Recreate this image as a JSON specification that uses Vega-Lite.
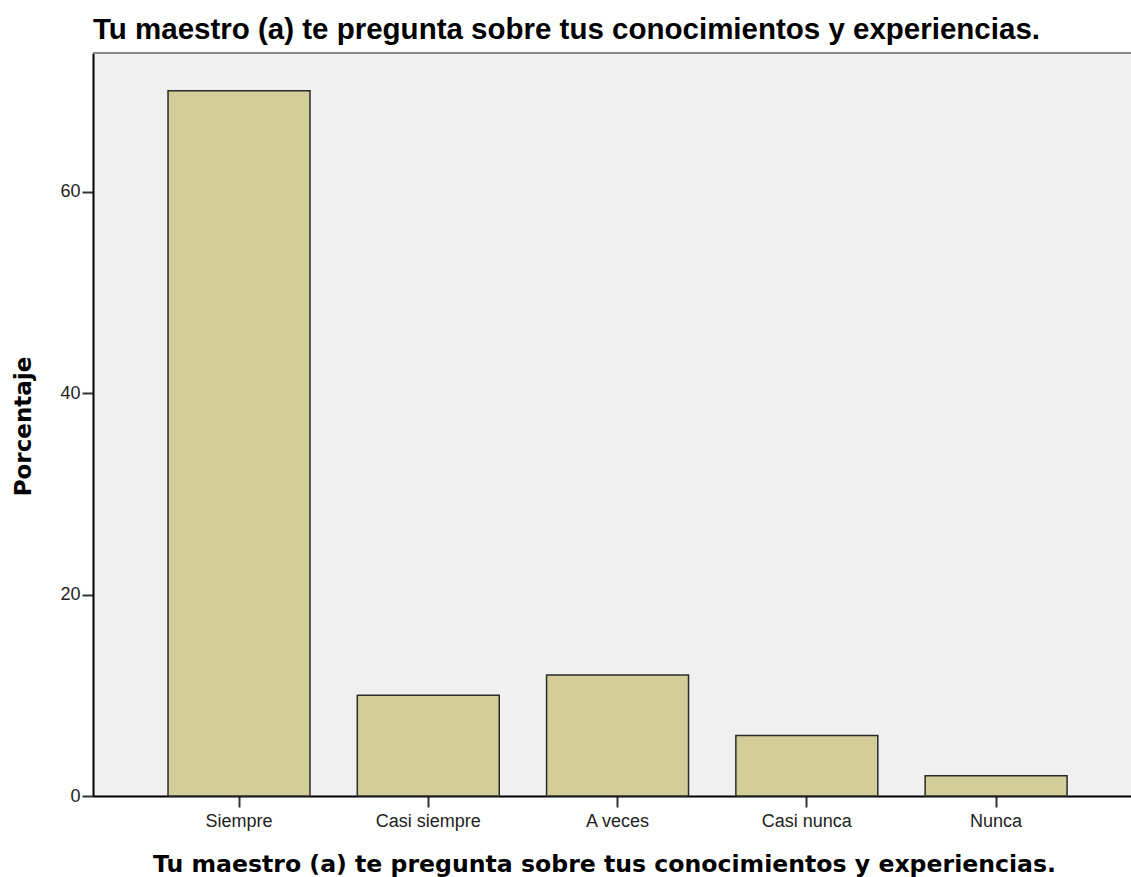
{
  "$schema": "https://vega.github.io/schema/vega-lite/v6.json",
  "autosize": "none",
  "padding": {"left": 93, "top": 53, "right": 0, "bottom": 81},
  "width": 1038,
  "height": 743,
  "background": "white",
  "title": {
    "text": "Tu maestro (a) te pregunta sobre tus conocimientos y experiencias.",
    "anchor": "start",
    "frame": "group",
    "offset": 7,
    "font": "Liberation Sans",
    "fontSize": 29.5,
    "fontWeight": "bold",
    "color": "black"
  },
  "config": {
    "view": {"fill": "#F0F0F0", "stroke": null},
    "axis": {"domainColor": "black", "tickColor": "#333333", "labelColor": "#222222", "grid": false}
  },
  "data": {
    "values": [
      {"respuesta": "Siempre", "porcentaje": 70},
      {"respuesta": "Casi siempre", "porcentaje": 10},
      {"respuesta": "A veces", "porcentaje": 12},
      {"respuesta": "Casi nunca", "porcentaje": 6},
      {"respuesta": "Nunca", "porcentaje": 2}
    ]
  },
  "layer": [
    {
      "mark": {"type": "rule", "color": "#888888", "strokeWidth": 2},
      "encoding": {"y": {"datum": 73.75, "type": "quantitative"}}
    },
    {
      "mark": {"type": "bar", "fill": "#D3CE97", "stroke": "#2a2a2a", "strokeWidth": 1.5},
      "encoding": {
        "x": {
          "field": "respuesta",
          "type": "nominal",
          "sort": null,
          "scale": {"paddingInner": 0.25, "paddingOuter": 0.367, "align": 0.54},
          "axis": {
            "title": "Tu maestro (a) te pregunta sobre tus conocimientos y experiencias.",
            "titleFont": "DejaVu Sans",
            "titleFontSize": 23.6,
            "titleFontWeight": "bold",
            "titleColor": "black",
            "titleX": 511,
            "titleY": 75,
            "titleAlign": "center",
            "titleBaseline": "alphabetic",
            "labelAngle": 0,
            "labelFont": "Liberation Sans",
            "labelFontSize": 18,
            "labelPadding": 5,
            "tickSize": 11,
            "tickWidth": 2,
            "domainWidth": 2
          }
        },
        "y": {
          "field": "porcentaje",
          "type": "quantitative",
          "scale": {"domain": [0, 73.75], "nice": false},
          "axis": {
            "title": "Porcentaje",
            "titleFont": "DejaVu Sans",
            "titleFontSize": 23,
            "titleFontWeight": "bold",
            "titleColor": "black",
            "titleX": -70,
            "titleY": 373,
            "titleAlign": "center",
            "titleBaseline": "middle",
            "values": [0, 20, 40, 60],
            "labelFont": "Liberation Sans",
            "labelFontSize": 18,
            "labelPadding": 2,
            "tickSize": 11,
            "tickWidth": 2,
            "domainWidth": 2
          }
        }
      }
    }
  ]
}
